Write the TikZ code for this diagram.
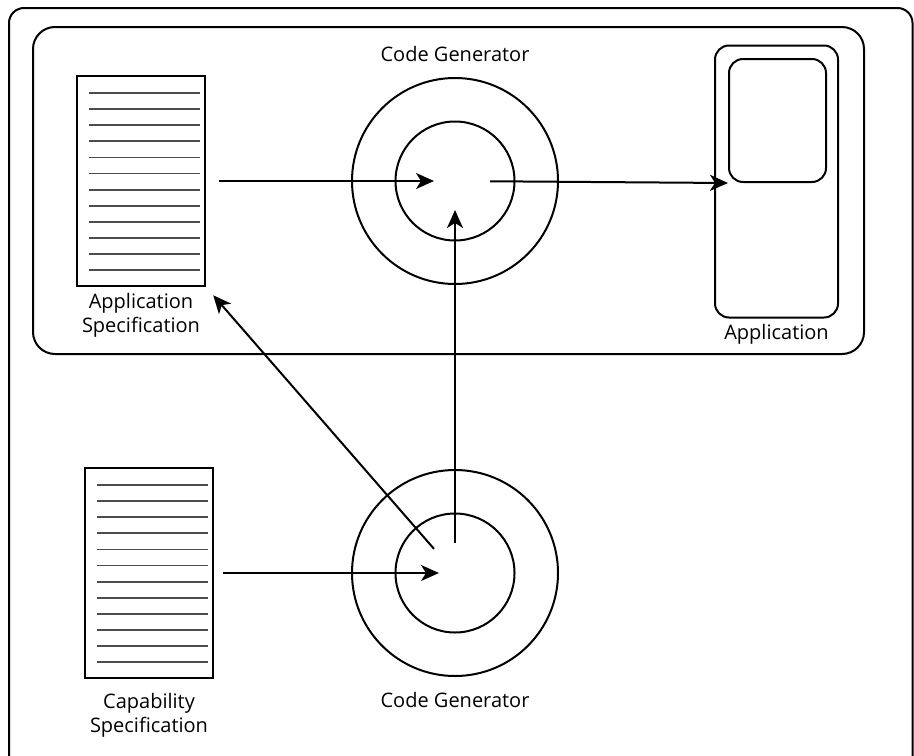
\documentclass[tikz,border=0pt]{standalone}
\usepackage{fontspec}
\setmainfont{Open Sans}
\usetikzlibrary{positioning,arrows.meta,shapes}

\begin{document}
\begin{tikzpicture}[
        x=0.5pt, y=-0.5pt,
        every node/.style={font=\fontsize{10}{12}\selectfont},
        spec/.style={rectangle, draw, line width=1pt, minimum width=64pt, minimum height=105pt, inner sep=0pt},
        ring/.style={circle, draw, line width=1pt, minimum size=103pt, inner sep=0pt},
        core/.style={circle, draw, line width=1pt, minimum size=59.5pt, inner sep=0pt},
        device/.style={rectangle, draw, line width=1pt, rounded corners=7pt, inner sep=0pt},
        caption/.style={align=center, inner sep=0pt},
        docline/.style={line width=0.9pt, black!70},
        arrow/.style={line width=1pt, -{Stealth[length=9pt, width=8pt, inset=2.5pt]}}
    ]
        \useasboundingbox (0,0) rectangle (914,755);

        % Frames
        \draw[line width=1pt, rounded corners=7.5pt] (9,8) rectangle (912.5,775);
        \draw[line width=1pt, rounded corners=11pt] (33,27) rectangle (864,354);

        % Specifications
        \node[spec] (appspec) at (141,181) {};
        \node[caption, below=3pt of appspec] (appspeclabel) {Application\\Specification};

        \node[spec] (capspec) at (149,573) {};
        \node[caption, below=7pt of capspec] (capspeclabel) {Capability\\Specification};

        \foreach \doc in {appspec,capspec}
            \foreach \i in {0,...,11}
                \draw[docline] ([shift={(13,18+16.1*\i)}]\doc.north west) -- ++(111,0);

        % Code generators
        \node[ring] (topgen) at (455,181) {};
        \node[core] (topcore) at (455,181) {};
        \node[caption, above=7.5pt of topgen] (topgenlabel) {Code Generator};

        \node[ring] (botgen) at (455,573) {};
        \node[core] (botcore) at (455,573) {};
        \node[caption, below=7.5pt of botgen] (botgenlabel) {Code Generator};

        % Application
        \node[device, minimum width=61.5pt, minimum height=136pt] (app) at (776.5,181.5) {};
        \node[device, minimum width=48.5pt, minimum height=61.5pt] (appscreen) at (777.5,120.5) {};
        \node[caption, below=2.5pt of app] (applabel) {Application};

        % Arrows
        \draw[arrow, shorten <=6.5pt, shorten >=10.5pt] (appspec.east) -- (topcore.center);
        \draw[arrow, shorten <=17.5pt] (topcore.center) -- (appscreen.south west);
        \draw[arrow, shorten <=4.5pt, shorten >=8pt] (capspec.east) -- (botcore.center);
        \draw[arrow, shorten <=15pt, shorten >=14.5pt] (botcore.center) -- (topcore.center);
        \draw[arrow, shorten <=16pt, shorten >=5.5pt] (botcore.center) -- (appspec.south east);
    \end{tikzpicture}
\end{document}
